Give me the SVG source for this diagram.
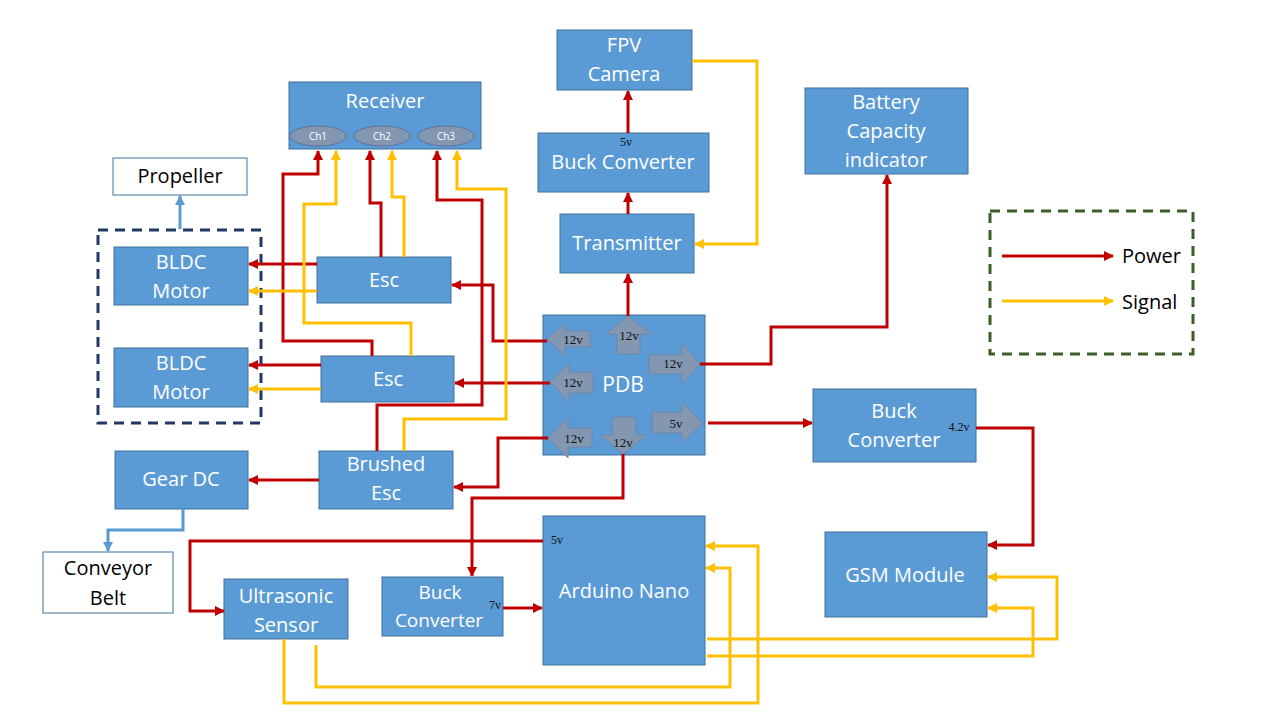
<svg xmlns="http://www.w3.org/2000/svg" width="1280" height="720" viewBox="0 0 1280 720">
<style>
.n{fill:#5B9BD5;stroke:#41719C;stroke-width:1}
.w{fill:#fff;stroke:#41719C;stroke-width:1}
.t{font-family:"Open Sans","Liberation Sans",sans-serif;font-size:20px;fill:#fff;text-anchor:middle}
.k{font-family:"Open Sans","Liberation Sans",sans-serif;font-size:20px;fill:#000}
.kc{text-anchor:middle}
.ch{font-family:"Open Sans","Liberation Sans",sans-serif;font-size:10px;fill:#fff;text-anchor:middle}
.v{font-family:"Liberation Serif","Times New Roman",serif;font-size:13px;fill:#111;text-anchor:middle}
.vs{font-family:"Liberation Serif","Times New Roman",serif;font-size:12px;fill:#111;text-anchor:middle}
.pa{fill:#8497B0;stroke:#6F86AD;stroke-width:1}
.el{fill:#8497B0;stroke:#5F7398;stroke-width:1}
.r{fill:none;stroke:#C00000;stroke-width:3;marker-end:url(#ar)}
.y{fill:none;stroke:#FFC000;stroke-width:3;marker-end:url(#ay)}
.b{fill:none;stroke:#5B9BD5;stroke-width:3;marker-end:url(#ab)}
</style>
<defs>
<marker id="ar" viewBox="0 0 10 10" refX="9" refY="5" markerWidth="10" markerHeight="10" markerUnits="userSpaceOnUse" orient="auto"><path d="M0,0 L10,5 L0,10 z" fill="#C00000"/></marker>
<marker id="ay" viewBox="0 0 10 10" refX="9" refY="5" markerWidth="10" markerHeight="10" markerUnits="userSpaceOnUse" orient="auto"><path d="M0,0 L10,5 L0,10 z" fill="#FFC000"/></marker>
<marker id="ab" viewBox="0 0 10 10" refX="9" refY="5" markerWidth="10" markerHeight="10" markerUnits="userSpaceOnUse" orient="auto"><path d="M0,0 L10,5 L0,10 z" fill="#5B9BD5"/></marker>
</defs>
<rect width="1280" height="720" fill="#fff"/>

<g id="motor-group">
<rect x="98" y="230" width="163" height="193" fill="none" stroke="#1F3864" stroke-width="3" stroke-dasharray="10,7"/>
</g>

<g id="receiver">
<rect class="n" x="289" y="82" width="192" height="67"/>
<text class="t" x="385" y="108">Receiver</text>
<ellipse class="el" cx="318" cy="136" rx="28" ry="10"/>
<text class="ch" x="318" y="140">Ch1</text>
<ellipse class="el" cx="382" cy="136" rx="28" ry="10"/>
<text class="ch" x="382" y="140">Ch2</text>
<ellipse class="el" cx="446" cy="136" rx="28" ry="10"/>
<text class="ch" x="446" y="140">Ch3</text>
</g>

<g id="fpv-camera">
<rect class="n" x="557" y="30" width="135" height="60"/>
<text class="t" x="624" y="52">FPV</text>
<text class="t" x="624" y="81">Camera</text>
</g>

<g id="buck-top">
<rect class="n" x="538" y="133" width="171" height="59"/>
<text class="vs" x="626" y="146">5v</text>
<text class="t" x="623" y="169">Buck Converter</text>
</g>

<g id="transmitter">
<rect class="n" x="560" y="214" width="134" height="59"/>
<text class="t" x="627" y="250">Transmitter</text>
</g>

<g id="battery">
<rect class="n" x="805" y="88" width="163" height="86"/>
<text class="t" x="886" y="109">Battery</text>
<text class="t" x="886" y="138">Capacity</text>
<text class="t" x="886" y="167">indicator</text>
</g>

<g id="propeller">
<rect class="w" x="113" y="158" width="134" height="37"/>
<text class="k kc" x="180" y="183">Propeller</text>
</g>

<g id="bldc1">
<rect class="n" x="114" y="247" width="134" height="58"/>
<text class="t" x="181" y="269">BLDC</text>
<text class="t" x="181" y="298">Motor</text>
</g>

<g id="bldc2">
<rect class="n" x="114" y="348" width="134" height="59"/>
<text class="t" x="181" y="370">BLDC</text>
<text class="t" x="181" y="399">Motor</text>
</g>

<g id="esc1">
<rect class="n" x="317" y="257" width="134" height="46"/>
<text class="t" x="384" y="287">Esc</text>
</g>

<g id="esc2">
<rect class="n" x="321" y="356" width="133" height="46"/>
<text class="t" x="388" y="386">Esc</text>
</g>

<g id="brushed-esc">
<rect class="n" x="319" y="451" width="134" height="58"/>
<text class="t" x="386" y="471">Brushed</text>
<text class="t" x="386" y="500">Esc</text>
</g>

<g id="gear-dc">
<rect class="n" x="115" y="451" width="133" height="58"/>
<text class="t" x="181" y="486">Gear DC</text>
</g>

<g id="conveyor-belt">
<rect class="w" x="43" y="552" width="130" height="61"/>
<text class="k kc" x="108" y="575">Conveyor</text>
<text class="k kc" x="108" y="605">Belt</text>
</g>

<g id="pdb">
<rect class="n" x="543" y="315" width="162" height="140"/>
<text class="t" x="623" y="392" style="font-size:21px">PDB</text>
<polygon class="pa" points="547,339 565,323 565,331 590,331 590,347 565,347 565,356"/>
<text class="v" x="573" y="344">12v</text>
<polygon class="pa" points="628,316 652,334 640,334 640,354 617,354 617,334 606,334"/>
<text class="v" x="629" y="340">12v</text>
<polygon class="pa" points="649,355 682,355 682,343 700,364 682,384 682,374 649,374"/>
<text class="v" x="673" y="368">12v</text>
<polygon class="pa" points="550,382 569,363 569,372 593,372 593,393 569,393 569,402"/>
<text class="v" x="573" y="387">12v</text>
<polygon class="pa" points="548,438 568,418 568,428 592,428 592,447 568,447 568,458"/>
<text class="v" x="574" y="443">12v</text>
<polygon class="pa" points="612,417 636,417 636,435 647,435 623,454 600,435 612,435"/>
<text class="v" x="623" y="447">12v</text>
<polygon class="pa" points="652,412 682,412 682,402 703,423 682,443 682,433 652,433"/>
<text class="v" x="676" y="428">5v</text>
</g>

<g id="buck-right">
<rect class="n" x="813" y="389" width="163" height="73"/>
<text class="t" x="894" y="418">Buck</text>
<text class="t" x="894" y="447">Converter</text>
<text class="vs" x="959" y="431">4.2v</text>
</g>

<g id="gsm">
<rect class="n" x="825" y="532" width="162" height="85"/>
<text class="t" x="905" y="582">GSM Module</text>
</g>

<g id="arduino">
<rect class="n" x="543" y="516" width="162" height="149"/>
<text class="vs" x="557" y="544">5v</text>
<text class="t" x="624" y="598">Arduino Nano</text>
</g>

<g id="buck-bottom">
<rect class="n" x="382" y="577" width="121" height="59"/>
<text class="t" x="440" y="599" style="font-size:19px">Buck</text>
<text class="t" x="439" y="627" style="font-size:19px">Converter</text>
<text class="vs" x="495" y="609">7v</text>
</g>

<g id="ultrasonic">
<rect class="n" x="224" y="579" width="124" height="60"/>
<text class="t" x="286" y="603">Ultrasonic</text>
<text class="t" x="286" y="632">Sensor</text>
</g>

<g id="legend">
<rect x="990" y="211" width="203" height="143" fill="none" stroke="#3B5E2B" stroke-width="3" stroke-dasharray="10,7"/>
<polyline class="r" points="1002,256 1113,256"/>
<polyline class="y" points="1002,301 1113,301"/>
<text class="k" x="1122" y="263">Power</text>
<text class="k" x="1122" y="309">Signal</text>
</g>

<g id="connectors">
<polyline class="r" points="372,356 372,341 283,341 283,174 318,174 318,151"/>
<polyline class="r" points="381,257 381,203 370,203 370,151"/>
<polyline class="r" points="377,451 377,405 482,405 482,200 437,200 437,151"/>
<polyline class="r" points="547,341 493,341 493,285 452,285"/>
<polyline class="r" points="550,383 455,383"/>
<polyline class="r" points="548,438 498,438 498,487 454,487"/>
<polyline class="r" points="623,454 623,498 472,498 472,576"/>
<polyline class="r" points="543,541 190,541 190,611 224,611"/>
<polyline class="r" points="503,608 542,608"/>
<polyline class="r" points="628,316 628,274"/>
<polyline class="r" points="628,214 628,193"/>
<polyline class="r" points="628,133 628,91"/>
<polyline class="r" points="700,364 771,364 771,327 887,327 887,175"/>
<polyline class="r" points="708,423 812,423"/>
<polyline class="r" points="976,428 1033,428 1033,545 988,545"/>
<polyline class="r" points="317,264 249,264"/>
<polyline class="r" points="321,365 249,365"/>
<polyline class="r" points="319,480 249,480"/>
<polyline class="y" points="411,356 411,323 304,323 304,204 336,204 336,151"/>
<polyline class="y" points="404,257 404,197 392,197 392,151"/>
<polyline class="y" points="404,451 404,419 506,419 506,189 457,189 457,151"/>
<polyline class="y" points="317,291 249,291"/>
<polyline class="y" points="321,389 249,389"/>
<polyline class="y" points="692,61 757,61 757,244 695,244"/>
<polyline class="y" points="284,639 284,703 758,703 758,546 706,546"/>
<polyline class="y" points="316,645 316,687 730,687 730,568 706,568"/>
<polyline class="y" points="707,639 1057,639 1057,577 988,577"/>
<polyline class="y" points="707,656 1033,656 1033,608 988,608"/>
<polyline class="b" points="180,229 180,196"/>
<polyline class="b" points="183,509 183,530 108,530 108,551"/>
</g>
</svg>
